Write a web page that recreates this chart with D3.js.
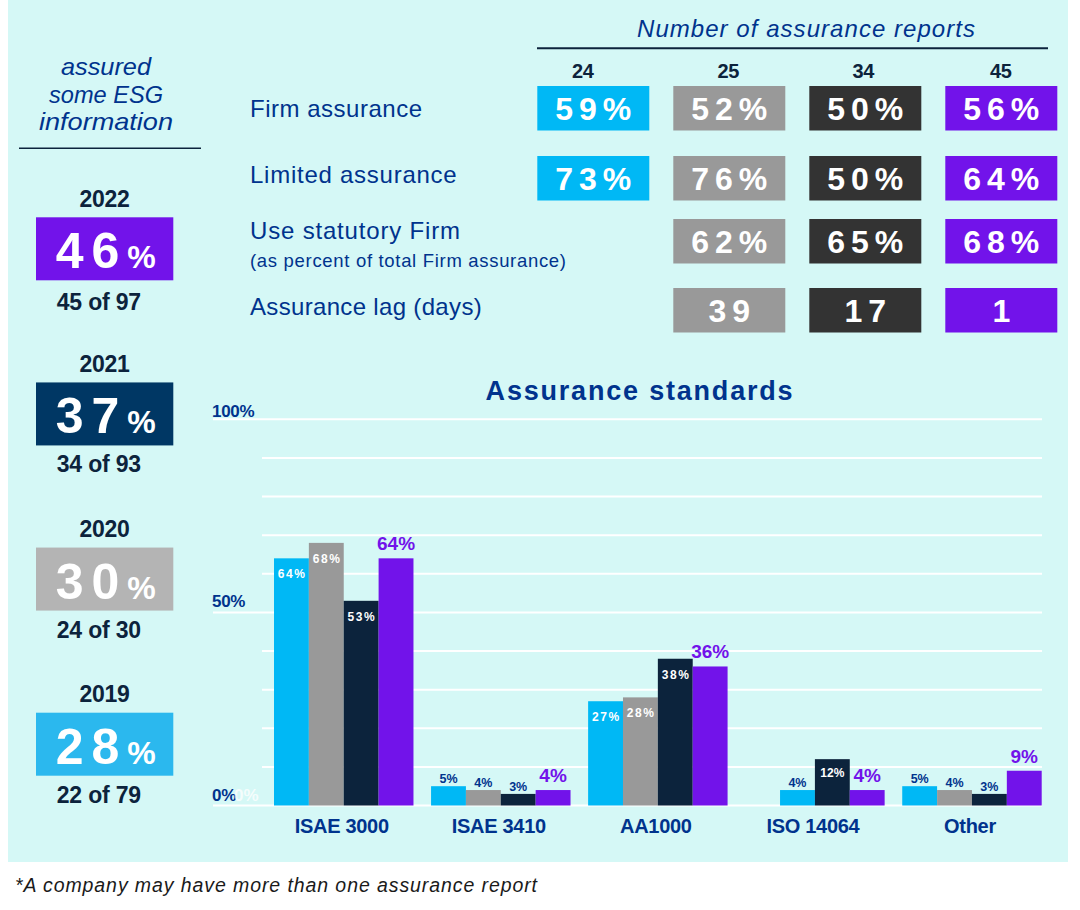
<!DOCTYPE html>
<html><head><meta charset="utf-8">
<script src="https://cdn.jsdelivr.net/npm/d3@7"></script>
<style>
body{margin:0;background:#fff}
svg{display:block}
text{font-family:"Liberation Sans",Arial,sans-serif}
</style>
</head><body>
<svg id="c" width="1080" height="910"></svg>
<script>
// ---------- data ----------
const years = ["2022", "2021", "2020", "2019"];
const yearPct = [46, 37, 30, 28];
const yearCounts = ["45 of 97", "34 of 93", "24 of 30", "22 of 79"];
const reportCounts = ["24", "25", "34", "45"];
const rowLabels = ["Firm assurance", "Limited assurance", "Use statutory Firm", "Assurance lag (days)"];
const rowNote = "(as percent of total Firm assurance)";
const firmAssurance = [59, 52, 50, 56];
const limitedAssurance = [73, 76, 50, 64];
const statutoryFirm = [null, 62, 65, 68];
const assuranceLag = [null, 39, 17, 1];
const categories = ["ISAE 3000", "ISAE 3410", "AA1000", "ISO 14064", "Other"];
const series = ["2019", "2020", "2021", "2022"];
const s2019 = [64, 5, 27, null, 5];
const s2020 = [68, 4, 28, 4, 4];
const s2021 = [53, 3, 38, 12, 3];
const s2022 = [64, 4, 36, 4, 9];
const yTickLabels = [0, 50, 100];

// ---------- styles ----------
const NAVY = "#00338d", DARK = "#0c233c", BG = "#d5f8f6";
const tableColors = ["#00b8f5", "#999999", "#333333", "#7213ea"];
const barColors = ["#00b8f5", "#999999", "#0c233c", "#7213ea"];
const yearBoxColors = ["#7213ea", "#003764", "#b4b4b4", "#2bb8ee"];

const svg = d3.select("#c");
svg.append("rect").attr("x", 8).attr("y", 0).attr("width", 1060).attr("height", 862).attr("fill", BG);

// ---------- left panel ----------
const leftTitle = [["assured", 75, 90], ["some ESG", 103.3, 114], ["information", 130, 134]];
leftTitle.forEach(([t, yb, w]) => {
  svg.append("text").attr("x", 106).attr("y", yb).attr("text-anchor", "middle")
    .attr("font-size", 24).attr("font-style", "italic").attr("fill", NAVY)
    .attr("textLength", w).attr("lengthAdjust", "spacingAndGlyphs").text(t);
});
svg.append("line").attr("x1", 19).attr("x2", 201).attr("y1", 148.3).attr("y2", 148.3)
  .attr("stroke", DARK).attr("stroke-width", 1.5);

const yearY = d3.scaleLinear().domain([0, 3]).range([217.3, 712.7]);
const boxH = 63;
years.forEach((yr, i) => {
  const top = yearY(i);
  svg.append("text").attr("x", 104.5).attr("y", top - 10.5).attr("text-anchor", "middle")
    .attr("font-size", 23).attr("font-weight", "bold").attr("fill", DARK)
    .attr("letter-spacing", -0.3).text(yr);
  svg.append("rect").attr("x", 36).attr("y", top).attr("width", 137.3).attr("height", boxH)
    .attr("fill", yearBoxColors[i]);
  const t = svg.append("text").attr("x", 105.7).attr("y", top + 51).attr("text-anchor", "middle")
    .attr("fill", "#fff").attr("font-weight", "bold");
  t.append("tspan").attr("font-size", 50).attr("letter-spacing", 8).text(yearPct[i]);
  t.append("tspan").attr("font-size", 32).text("%");
  svg.append("text").attr("x", 98.8).attr("y", top + boxH + (i === 0 ? 30 : 27)).attr("text-anchor", "middle")
    .attr("font-size", 23).attr("font-weight", "bold").attr("fill", DARK)
    .attr("letter-spacing", -0.2).text(yearCounts[i]);
});

// ---------- top table ----------
svg.append("text").attr("x", 806).attr("y", 37).attr("text-anchor", "middle")
  .attr("font-size", 24).attr("font-style", "italic").attr("fill", NAVY)
  .attr("textLength", 338).attr("lengthAdjust", "spacing").text("Number of assurance reports");
svg.append("line").attr("x1", 537).attr("x2", 1048).attr("y1", 48.3).attr("y2", 48.3)
  .attr("stroke", DARK).attr("stroke-width", 2);

const colX = d3.scaleBand().domain(d3.range(4)).range([537.3, 1057.3]).paddingInner(0.1765).paddingOuter(0);
const headerX = [582.8, 728.3, 863.3, 1000.8];
reportCounts.forEach((c, i) => {
  svg.append("text").attr("x", headerX[i]).attr("y", 78.3).attr("text-anchor", "middle")
    .attr("font-size", 20).attr("font-weight", "bold").attr("fill", DARK).attr("letter-spacing", -0.4).text(c);
});

const rows = [
  {vals: firmAssurance, pct: true},
  {vals: limitedAssurance, pct: true},
  {vals: statutoryFirm, pct: true},
  {vals: assuranceLag, pct: false}
];
const rowTop = [86, 156, 219, 288];
const rowBoxH = 44.5;
const labelBase = [117.3, 182.7, 239, 315];
const labelW = [172, 206.7, 210, 231.7];
rowLabels.forEach((l, i) => {
  svg.append("text").attr("x", 250).attr("y", labelBase[i]).attr("font-size", 24).attr("fill", NAVY)
    .attr("textLength", labelW[i]).attr("lengthAdjust", "spacing").text(l);
});
svg.append("text").attr("x", 250).attr("y", 266.7).attr("font-size", 18.5).attr("fill", NAVY)
  .attr("textLength", 316).attr("lengthAdjust", "spacing").text(rowNote);

rows.forEach((r, ri) => {
  r.vals.forEach((v, ci) => {
    if (v === null) return;
    const x = colX(ci), top = rowTop[ri];
    svg.append("rect").attr("x", x).attr("y", top).attr("width", colX.bandwidth()).attr("height", rowBoxH)
      .attr("fill", tableColors[ci]);
    svg.append("text").attr("x", x + colX.bandwidth() / 2 + 3).attr("y", top + rowBoxH / 2 + 12)
      .attr("text-anchor", "middle").attr("font-size", 32).attr("font-weight", "bold")
      .attr("letter-spacing", 6).attr("fill", "#fff").text(r.pct ? v + "%" : v);
  });
});

// ---------- bar chart ----------
svg.append("text").attr("x", 640).attr("y", 400).attr("text-anchor", "middle")
  .attr("font-size", 27).attr("font-weight", "bold").attr("letter-spacing", 1.8).attr("fill", NAVY)
  .text("Assurance standards");

const y = d3.scaleLinear().domain([0, 100]).range([805.5, 419.3]);
const x0 = d3.scaleBand().domain(categories).range([274, 1041.7]).paddingInner(0.112).paddingOuter(0);
const x1 = d3.scaleBand().domain(series).range([0, x0.bandwidth()]).padding(0);

// gridlines
const grid = svg.append("g");
y.ticks(10).forEach(t => {
  const major = yTickLabels.includes(t);
  grid.append("line").attr("x1", major ? 213 : 262).attr("x2", 1042)
    .attr("y1", y(t)).attr("y2", y(t)).attr("stroke", "#fff").attr("stroke-width", 2);
});
// y axis labels
yTickLabels.forEach(t => {
  svg.append("text").attr("x", 212).attr("y", y(t) - (t === 100 ? 2.5 : 5)).attr("font-size", 17)
    .attr("font-weight", "bold").attr("fill", NAVY).attr("letter-spacing", -0.3).text(t + "%");
});
svg.append("text").attr("x", 234).attr("y", y(0) - 5).attr("font-size", 17).attr("font-weight", "bold")
  .attr("fill", "#fff").attr("opacity", 0.75).text("0%");

const allSeries = [s2019, s2020, s2021, s2022];
const fillOverride = {"ISO 14064|2020": barColors[0]};
const bars = svg.append("g");
const labels = svg.append("g");
categories.forEach((cat, ci) => {
  allSeries.forEach((arr, si) => {
    const v = arr[ci];
    if (v === null || v === undefined) return;
    const bx = x0(cat) + x1(series[si]);
    const bw = x1.bandwidth();
    const top = y(v);
    const fill = fillOverride[cat + "|" + series[si]] || barColors[si];
    bars.append("rect").attr("x", bx).attr("y", top).attr("width", bw).attr("height", y(0) - top)
      .attr("fill", fill);
    const cx = bx + bw / 2;
    if (si === 3) {
      labels.append("text").attr("x", cx).attr("y", top - 8).attr("text-anchor", "middle")
        .attr("font-size", 19).attr("font-weight", "bold").attr("fill", "#7213ea").text(v + "%");
    } else if (v >= 10) {
      labels.append("text").attr("x", cx + (v >= 20 ? 0.8 : 0)).attr("y", top + (v >= 20 ? 20 : 18))
        .attr("text-anchor", "middle").attr("font-size", 12).attr("font-weight", "bold")
        .attr("letter-spacing", v >= 20 ? 1.6 : 0).attr("fill", "#fff").text(v + "%");
    } else {
      labels.append("text").attr("x", cx).attr("y", top - 3).attr("text-anchor", "middle")
        .attr("font-size", 12.5).attr("font-weight", "bold").attr("fill", NAVY).text(v + "%");
    }
  });
  svg.append("text").attr("x", x0(cat) + x0.bandwidth() / 2 - 2).attr("y", 833.3).attr("text-anchor", "middle")
    .attr("font-size", 20).attr("font-weight", "bold").attr("fill", NAVY).attr("letter-spacing", -0.3).text(cat);
});

// footnote
svg.append("text").attr("x", 15).attr("y", 892).attr("font-size", 19.5).attr("font-style", "italic")
  .attr("fill", "#1a1a1a").attr("textLength", 522).attr("lengthAdjust", "spacing")
  .text("*A company may have more than one assurance report");
</script>
</body></html>
